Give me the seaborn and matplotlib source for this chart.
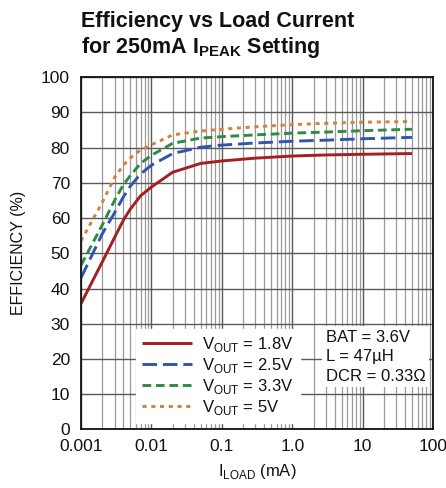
import numpy as np
import pandas as pd
import seaborn as sns
import matplotlib
matplotlib.use('Agg')
import matplotlib.pyplot as plt
from matplotlib.ticker import FixedLocator, FixedFormatter, LogLocator, NullFormatter

# Dados
carga_ma = [0.001, 0.002, 0.003, 0.004, 0.005, 0.007, 0.01, 0.02, 0.05, 0.1, 0.3, 1.0, 3.0, 10.0, 50.0]
ef_18v = [35.7, 47.5, 54.5, 59.4, 62.5, 66.3, 68.8, 73.0, 75.5, 76.2, 77.0, 77.6, 77.9, 78.1, 78.3]
ef_25v = [43.0, 55.5, 61.5, 66.0, 69.0, 72.5, 75.0, 78.3, 80.1, 80.7, 81.3, 81.8, 82.1, 82.5, 82.9]
ef_33v = [46.6, 58.0, 65.0, 69.5, 72.0, 75.5, 77.8, 81.2, 82.7, 83.1, 83.6, 84.1, 84.4, 84.8, 85.2]
ef_5v = [53.5, 64.4, 71.5, 75.0, 77.0, 79.3, 80.8, 83.6, 84.7, 85.2, 85.9, 86.5, 86.9, 87.2, 87.4]

rotulos = [r'V$_{\mathrm{OUT}}$ = 1.8V', r'V$_{\mathrm{OUT}}$ = 2.5V',
           r'V$_{\mathrm{OUT}}$ = 3.3V', r'V$_{\mathrm{OUT}}$ = 5V']
cores = ['#a31f24', '#2f55b0', '#2f8a45', '#d0843a']
tracos = [(0, ()), (0, (5, 2)), (0, (3, 1.6)), (0, (1.4, 1.6))]

x_ticks = [0.001, 0.01, 0.1, 1.0, 10, 100]
x_labels = ['0.001', '0.01', '0.1', '1.0', '10', '100']
y_ticks = list(range(0, 101, 10))

sns.set_theme(style='white')
plt.rcParams['font.family'] = ['Liberation Sans', 'DejaVu Sans']
plt.rcParams['mathtext.fontset'] = 'custom'
plt.rcParams['mathtext.rm'] = 'Liberation Sans'
plt.rcParams['mathtext.bf'] = 'Liberation Sans:bold'
plt.rcParams['text.color'] = '#111111'

fig = plt.figure(figsize=(4.46, 4.88), dpi=100)
ax = fig.add_axes([0.1816, 0.12, 0.7897, 0.722])

series = [ef_18v, ef_25v, ef_33v, ef_5v]
for ef, rot, cor, ls in zip(series, rotulos, cores, tracos):
    df = pd.DataFrame({'carga': carga_ma, 'ef': ef})
    sns.lineplot(data=df, x='carga', y='ef', ax=ax, color=cor, linestyle=ls,
                 linewidth=2.1, label=rot)

ax.set_xscale('log')
ax.set_xlim(0.001, 100)
ax.set_ylim(0, 100)
ax.xaxis.set_major_locator(FixedLocator(x_ticks))
ax.xaxis.set_major_formatter(FixedFormatter(x_labels))
ax.xaxis.set_minor_locator(LogLocator(base=10, subs=np.arange(2, 10)))
ax.xaxis.set_minor_formatter(NullFormatter())
ax.set_yticks(y_ticks)

ax.grid(which='major', color='#5a5a5a', linewidth=1.0)
ax.grid(which='minor', axis='x', color='#9a9a9a', linewidth=0.9)
ax.set_axisbelow(True)
ax.tick_params(which='both', length=0, labelsize=12.5, colors='#111111')
ax.tick_params(axis='x', pad=7)
ax.tick_params(axis='y', pad=8)
for s in ax.spines.values():
    s.set_color('#111111')
    s.set_linewidth(1.3)

ax.set_xlabel(r'I$_{\mathrm{LOAD}}$ (mA)', fontsize=12, labelpad=6, color='#111111')
ax.set_ylabel('EFFICIENCY (%)', fontsize=11.5, labelpad=11, color='#111111')

leg = ax.legend(loc='lower left', bbox_to_anchor=(0.156, 0.018, 0.466, 0.273),
                mode='expand', frameon=True, fancybox=False, framealpha=1,
                edgecolor='white', facecolor='white', fontsize=12,
                handlelength=3.0, handletextpad=0.6, labelspacing=0.12,
                borderpad=0.35, borderaxespad=0)

ax.text(0.695, 0.283, 'BAT = 3.6V\nL = 47µH\nDCR = 0.33Ω', transform=ax.transAxes,
        fontsize=12, va='top', ha='left', linespacing=1.38,
        bbox=dict(facecolor='white', edgecolor='none', pad=2.5))

fig.text(0.1816, 0.945, 'Efficiency vs Load Current', fontsize=15.5,
         fontweight='bold', ha='left', va='baseline')
fig.text(0.1816, 0.892, r'for 250mA I$_{\mathbf{PEAK}}$ Setting', fontsize=15.5,
         fontweight='bold', ha='left', va='baseline')

fig.savefig('out.png', dpi=100)
